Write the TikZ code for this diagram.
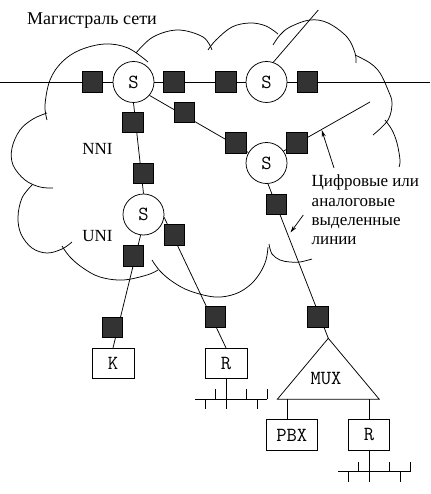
\documentclass[tikz,border=0pt]{standalone}
\usepackage{fontspec}
\setmainfont{Liberation Serif}
\usetikzlibrary{arrows.meta}
\definecolor{sqgray}{RGB}{51,51,51}
\begin{document}
\begin{tikzpicture}[x=1pt,y=-1pt,
  ln/.style={line width=0.75pt},
  cloudarc/.style={line width=0.75pt},
  sw/.style={circle, draw, line width=0.75pt, fill=white, minimum size=41pt, inner sep=0pt, font=\ttfamily\fontsize{20}{20}\selectfont},
  sq/.style={rectangle, draw, line width=0.6pt, fill=sqgray, minimum size=20.5pt, inner sep=0pt},
  box/.style={rectangle, draw, line width=0.75pt, fill=white, minimum height=30.5pt, inner sep=0pt, font=\ttfamily\fontsize{20}{20}\selectfont},
  lbl/.style={inner sep=0pt, font=\fontsize{17}{19.3}\selectfont},
  arr/.style={line width=0.75pt, -{Stealth[length=7pt,width=4pt]}},
  bus/.pic={
    \draw[ln] (-31,0) -- (41.4,0);
    \foreach \x in {-20.5,31} \draw[ln] (\x,0) -- (\x,10);
    \foreach \x in {-10.2,20.5,41.4} \draw[ln] (\x,0) -- (\x,-10);
  }]
\useasboundingbox (0,0) rectangle (430,494);

% free ends
\coordinate (L) at (0,82);
\coordinate (R) at (430,82);
\coordinate (e1) at (370,102);
\coordinate (e2) at (318.3,10);
\coordinate (mA) at (328.3,338.3);
\coordinate (mL) at (277.3,399.3);
\coordinate (mR) at (379.3,399.3);
\coordinate (mP) at (287.3,399.3);
\coordinate (mQ) at (369.3,399.3);

% cloud
\draw[cloudarc] plot[smooth, tension=0.6] coordinates {(47,120) (45,105) (50,80) (62,62) (80,50) (105,44) (128,48) (148,62)};
\draw[cloudarc] plot[smooth, tension=0.6] coordinates {(47,113) (33,119) (20,130) (12,148) (13,165) (25,180) (40,187) (53,188)};
\draw[cloudarc] plot[smooth, tension=0.6] coordinates {(32,185) (22,198) (18,217) (21,234) (32,248) (47,253) (62,249) (72,242)};
\draw[cloudarc] plot[smooth, tension=0.6] coordinates {(62,246) (70,257) (83,268) (100,277) (123,280) (147,275) (158,270)};
\draw[cloudarc] plot[smooth, tension=0.6] coordinates {(152,260) (160,271) (173,282) (190,291) (215,297) (235,294) (250,285) (260,273) (266,260) (268,247)};
\draw[cloudarc] plot[smooth, tension=0.6] coordinates {(269,244) (272,254) (280,260) (290,262) (300,262) (312,259)};
\draw[cloudarc] plot[smooth, tension=0.6] coordinates {(136,53) (153,37) (178,30) (203,37) (212,50)};
\draw[cloudarc] plot[smooth, tension=0.6] coordinates {(208,50) (216,40) (232,27) (250,23) (266,26) (278,34)};
\draw[cloudarc] plot[smooth, tension=0.6] coordinates {(273,45) (280,35) (290,27) (310,20) (328,23) (347,37) (355,53) (356,63)};
\draw[cloudarc] plot[smooth, tension=0.6] coordinates {(355,55) (370,63) (380,73) (388,90) (392,103) (388,120) (373,135)};
\draw[cloudarc] plot[smooth, tension=0.6] coordinates {(385,120) (392,130) (397,143) (400,160) (399,167)};

% backbone line
\draw[ln] (L) -- (R);

% switches
\node[sw] (s1) at (133.5,82) {S};
\node[sw] (s2) at (266.5,82) {S};
\node[sw] (s3) at (143.5,214.5) {S};
\node[sw] (s4) at (266.5,163) {S};

% terminal equipment
\node[box, minimum width=42pt] (k) at (113,363.5) {K};
\node[box, minimum width=42pt] (r1) at (226,363.5) {R};
\node[box, minimum width=51pt] (pbx) at (291.7,435) {PBX};
\node[box, minimum width=41pt] (r2) at (369,435) {R};

% multiplexer
\draw[ln] (mA) -- (mL) -- (mR) -- cycle;
\node[inner sep=0pt, font=\ttfamily\fontsize{20}{20}\selectfont] (mux) at (326,379) {MUX};

% links
\draw[ln] (s2.71) -- (e2);
\draw[ln] (s1.south) -- (s3.north);
\draw[ln] (s1.-40) -- (s4.150);
\draw[ln] (s4.35) -- (e1);
\draw[ln] (s4.-86) -- (mA);
\draw[ln] (s3.-98) -- (k.north);
\draw[ln] (s3.-8) -- (r1.north);
\draw[ln] (mP) -- (mP |- pbx.north);
\draw[ln] (mQ) -- (mQ |- r2.north);

% LAN buses
\draw[ln] (r1.south) -- ++(0,30.3);
\pic at ([yshift=-20.3pt]r1.south) {bus};
\draw[ln] (r2.south) -- ++(0,31);
\pic at ([yshift=-21pt]r2.south) {bus};

% interface units
\node[sq] (q1) at (92.5,82) {};
\node[sq] (q2) at (174,82) {};
\node[sq] (q3) at (226,82) {};
\node[sq] (q4) at (307.5,82) {};
\node[sq] (q5) at (133,122.5) {};
\node[sq] (q6) at (143.5,173.5) {};
\node[sq] (q7) at (184.5,112.5) {};
\node[sq] (q8) at (236,143) {};
\node[sq] (q9) at (297,143) {};
\node[sq] (q10) at (276.5,204.5) {};
\node[sq] (q11) at (318,317) {};
\node[sq] (q12) at (133.5,256) {};
\node[sq] (q13) at (112.5,327.5) {};
\node[sq] (q14) at (174.5,235) {};
\node[sq] (q15) at (215.5,317) {};

% labels
\node[lbl, anchor=base west, font=\fontsize{18}{19.3}\selectfont] (title) at (27,25) {Магистраль сети};
\node[lbl, anchor=base] (nni) at (97.5,155) {NNI};
\node[lbl, anchor=base] (uni) at (97.5,241) {UNI};
\node[lbl, align=left, anchor=north west] (txt) at (311.5,175) {Цифровые или\\аналоговые\\выделенные\\линии};

% pointers
\coordinate (a1s) at (334,168);
\coordinate (a1e) at (321.7,130);
\coordinate (a2s) at (303.3,215);
\coordinate (a2e) at (290.5,232.5);
\draw[arr] (a1s) -- (a1e);
\draw[arr] (a2s) -- (a2e);
\end{tikzpicture}
\end{document}
